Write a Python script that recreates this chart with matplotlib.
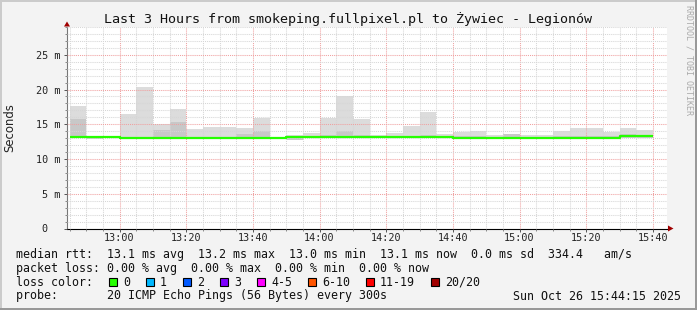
import matplotlib
matplotlib.use('Agg')
import matplotlib.pyplot as plt
import matplotlib.dates as mdates
from matplotlib.ticker import FixedLocator, FixedFormatter, MultipleLocator
from matplotlib.patches import Rectangle, Polygon
import pandas as pd

# ---------------- data ----------------
title = "Last 3 Hours from smokeping.fullpixel.pl to Żywiec - Legionów"
first_bar = "2025-10-26 12:45"
n_bars = 35
step = "5min"
x_start = "2025-10-26 12:44:15"
x_end = "2025-10-26 15:44:15"

# median rtt per 5-minute step (ms)
median_ms = [13.13, 13.13, 13.13, 13.03, 13.03, 13.03, 13.03, 13.03, 13.03, 13.03,
             13.03, 13.03, 13.03, 13.16, 13.16, 13.16, 13.16, 13.16, 13.16, 13.16,
             13.16, 13.16, 13.16, 13.01, 13.01, 13.01, 13.01, 13.01, 13.01, 13.01,
             13.01, 13.01, 13.01, 13.25, 13.25]
# smoke: lowest ping, top of darker (inner) band, highest ping (ms)
smoke_lo = [13.0, 12.95, 13.1, 13.0, 13.0, 13.0, 13.0, 13.0, 13.0, 13.0,
            13.0, 12.9, 12.9, 12.75, 13.0, 13.0, 13.0, 13.0, 13.0, 13.0,
            13.0, 13.0, 13.0, 12.9, 12.95, 12.95, 13.0, 12.95, 12.95, 12.95,
            12.95, 12.95, 12.95, 13.0, 13.0]
smoke_mid = [15.7, 13.15, 13.2, 13.2, 13.2, 14.2, 15.3, 13.2, 13.2, 13.2,
             13.6, 14.05, 13.1, 13.2, 13.3, 13.4, 14.05, 13.4, 13.2, 13.3,
             13.3, 13.4, 13.3, 13.3, 13.3, 13.2, 13.6, 13.2, 13.2, 13.3,
             13.3, 13.3, 13.3, 13.6, 13.4]
smoke_hi = [17.6, 13.2, 13.25, 16.5, 20.4, 15.1, 17.2, 14.35, 14.65, 14.6,
            14.45, 15.95, 13.15, 13.4, 13.8, 15.95, 19.1, 15.75, 13.45, 13.7,
            14.75, 16.7, 13.55, 13.95, 14.05, 13.45, 13.65, 13.4, 13.45, 14.05,
            14.4, 14.45, 13.95, 14.45, 14.2]

y_ticks = [0, 5, 10, 15, 20, 25]
y_tick_labels = ["0  ", "5 m", "10 m", "15 m", "20 m", "25 m"]
y_max = 29.0

legend_rtt = "median rtt:  13.1 ms avg  13.2 ms max  13.0 ms min  13.1 ms now  0.0 ms sd  334.4   am/s"
legend_loss = "packet loss: 0.00 % avg  0.00 % max  0.00 % min  0.00 % now"
loss_labels = ["0", "1", "2", "3", "4-5", "6-10", "11-19", "20/20"]
loss_colors = ["#26ff00", "#00b8ff", "#0059ff", "#7e00ff", "#ff00ff", "#ff5500", "#ff0000", "#a10000"]
probe_text = "probe:       20 ICMP Echo Pings (56 Bytes) every 300s"
stamp_text = "Sun Oct 26 15:44:15 2025"
watermark = "RRDTOOL / TOBI OETIKER"

# ---------------- figure ----------------
W, H = 697, 310
MONO = "DejaVu Sans Mono"
fig = plt.figure(figsize=(W / 100, H / 100), dpi=100, facecolor="#f3f3f3")

ax = fig.add_axes([67 / W, (H - 228.5) / H, 600 / W, 201.5 / H], zorder=1)
ax.set_facecolor("white")

starts = pd.date_range(first_bar, periods=n_bars, freq=step)
xs = mdates.date2num(starts)
width = mdates.date2num(starts[1]) - mdates.date2num(starts[0])

lo = pd.Series(smoke_lo).values
mid = pd.Series(smoke_mid).values
hi = pd.Series(smoke_hi).values
ax.bar(xs, hi - lo, bottom=lo, width=width, align="edge", color="#dcdcdc", lw=0, zorder=1)
ax.bar(xs, mid - lo, bottom=lo, width=width, align="edge", color="#c8c8c8", lw=0, zorder=1.1)

edges = list(xs) + [xs[-1] + width]
ax.step(edges, list(median_ms) + [median_ms[-1]], where="post", color="#26ff00",
        lw=1.6, zorder=3, solid_capstyle="butt")

ax.set_xlim(mdates.date2num(pd.Timestamp(x_start)), mdates.date2num(pd.Timestamp(x_end)))
ax.set_ylim(0, y_max)

ax.xaxis.set_major_locator(mdates.MinuteLocator(byminute=[0, 20, 40]))
ax.xaxis.set_minor_locator(mdates.MinuteLocator(byminute=range(0, 60, 5)))
ax.xaxis.set_major_formatter(mdates.DateFormatter("%H:%M"))
ax.yaxis.set_major_locator(FixedLocator(y_ticks))
ax.yaxis.set_major_formatter(FixedFormatter(y_tick_labels))
ax.yaxis.set_minor_locator(MultipleLocator(1))

ax.set_axisbelow(False)
ax.grid(which="minor", color="#d6d6d6", ls=(0, (1, 1)), lw=0.75, zorder=2)
ax.grid(which="major", color="#f0a0a0", ls=(0, (1, 1)), lw=0.75, zorder=2.1)

for lab in ax.get_xticklabels() + ax.get_yticklabels():
    lab.set_fontfamily(MONO)
    lab.set_fontsize(7.3)
    lab.set_color("#222222")
ax.tick_params(axis="both", which="major", length=2.5, width=0.7, color="#555555", pad=2.5)
ax.tick_params(axis="x", which="major", pad=1.0)
ax.tick_params(axis="both", which="minor", length=1.5, width=0.7, color="#888888")

for s in ["top", "right"]:
    ax.spines[s].set_visible(False)
ax.spines["left"].set_color("#777777")
ax.spines["left"].set_linewidth(0.8)
ax.spines["bottom"].set_color("#000000")
ax.spines["bottom"].set_linewidth(0.8)

ax.set_ylabel("Seconds", fontsize=8.4, color="#222222", family="DejaVu Sans")
ax.yaxis.set_label_coords(-(67 - 16) / 600, (228.5 - 127.5) / 201.5)

# ---------------- overlay for texts ----------------
ov = fig.add_axes([0, 0, 1, 1], zorder=2)
ov.set_xlim(0, W)
ov.set_ylim(H, 0)
ov.axis("off")

# border (shade)
ov.add_patch(Rectangle((0, 0), W, 1.5, color="#cbcbcb", lw=0))
ov.add_patch(Rectangle((0, 0), 1.5, H, color="#cbcbcb", lw=0))
ov.add_patch(Rectangle((0, H - 2.5), W, 2.5, color="#999999", lw=0))
ov.add_patch(Rectangle((W - 2, 0), 2, H, color="#999999", lw=0))

# axis arrows
ov.add_patch(Polygon([[64, 26.5], [70, 26.5], [67, 21.5]], closed=True, color="#a00000", lw=0))
ov.add_patch(Polygon([[668, 225.5], [668, 231.5], [673.5, 228.5]], closed=True, color="#a00000", lw=0))

ov.text(348.5, 19, title, ha="center", va="center", fontsize=9.6, family=MONO, color="#111111")
ov.text(689, 5, watermark, ha="center", va="top", rotation=270, fontsize=6.0,
        family=MONO, color="#aaaaaa")

tkw = dict(fontsize=8.4, family=MONO, color="#111111", va="center", ha="left")
ov.text(16, 254.5, legend_rtt, **tkw)
ov.text(16, 268.3, legend_loss, **tkw)
ov.text(16, 282, "loss color:", **tkw)
ov.text(16, 296, probe_text, **tkw)
ov.text(681, 296, stamp_text, **{**tkw, "ha": "right"})

bx = 109
for lab, col in zip(loss_labels, loss_colors):
    ov.add_patch(Rectangle((bx, 277.5), 8, 8, facecolor=col, edgecolor="#000000", lw=0.8))
    ov.text(bx + 14, 282, lab, **tkw)
    bx += 14 + 7 * len(lab) + 16

fig.savefig("out.png", dpi=100, facecolor=fig.get_facecolor())
